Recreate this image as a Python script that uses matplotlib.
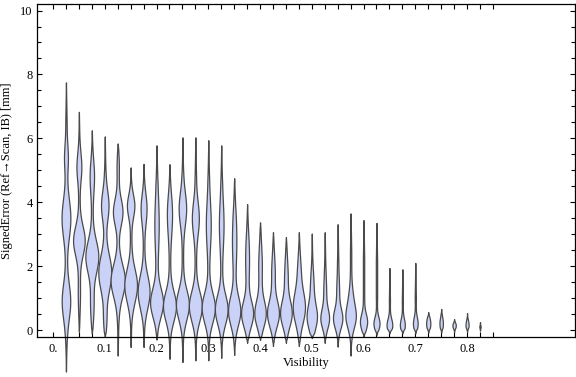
import numpy as np
import matplotlib
matplotlib.use('Agg')
import matplotlib.pyplot as plt
from matplotlib.ticker import MultipleLocator

# violin i sits at category position i (1..33), 4 positions per 0.1 visibility
tick_labels = ['0.', '0.1', '0.2', '0.3', '0.4', '0.5', '0.6', '0.7', '0.8']

# lowest / highest signed error of each distribution [mm]
err_min = [-1.30, -0.05, -0.10, -0.20, -0.80, -0.53, -0.53, -0.30, -0.90, -1.00, -0.95,
           -0.95, -0.87, -0.78, -0.40, -0.31, -0.50, -0.40, -0.50, -0.25, -0.40, -0.52,
           -0.80, -0.20, -0.15, -0.10, -0.10, -0.10, -0.08, -0.08, -0.06, -0.06, -0.02]
err_max = [7.75, 6.83, 6.25, 6.06, 5.84, 5.09, 5.20, 5.78, 5.19, 6.03, 6.03,
           5.94, 5.78, 4.75, 3.94, 3.37, 3.06, 2.91, 3.06, 3.02, 3.06, 3.31,
           3.65, 3.44, 3.35, 1.94, 1.90, 2.10, 0.56, 0.66, 0.34, 0.53, 0.25]

# density bulges: (centre [mm], spread [mm], half width)
bulges = [
    [(0.9, 0.55, 0.28), (3.5, 0.6, 0.29), (5.4, 0.4, 0.10)],
    [(2.8, 0.45, 0.40), (5.1, 0.4, 0.14), (1.0, 0.6, 0.04)],
    [(2.3, 0.5, 0.45), (4.8, 0.5, 0.12), (0.7, 0.5, 0.10)],
    [(1.8, 0.55, 0.45), (3.9, 0.45, 0.24), (0.3, 0.4, 0.10)],
    [(1.55, 0.5, 0.50), (3.7, 0.4, 0.32), (5.2, 0.4, 0.06)],
    [(1.4, 0.5, 0.44), (3.9, 0.35, 0.24)],
    [(1.2, 0.5, 0.41), (3.8, 0.45, 0.18)],
    [(0.85, 0.45, 0.45), (3.3, 0.8, 0.12)],
    [(0.75, 0.45, 0.45), (3.6, 0.6, 0.15)],
    [(0.8, 0.45, 0.45), (3.8, 0.5, 0.24)],
    [(0.75, 0.45, 0.45), (3.5, 0.5, 0.22)],
    [(0.7, 0.45, 0.46), (3.3, 0.7, 0.14)],
    [(0.65, 0.45, 0.44), (3.3, 0.7, 0.13)],
    [(0.6, 0.45, 0.42), (2.8, 0.8, 0.12)],
    [(0.5, 0.4, 0.42), (2.2, 0.7, 0.10)],
    [(0.5, 0.4, 0.40), (2.0, 0.7, 0.09)],
    [(0.5, 0.4, 0.41), (1.8, 0.6, 0.09)],
    [(0.5, 0.4, 0.40), (1.7, 0.6, 0.09)],
    [(0.7, 0.5, 0.42), (1.9, 0.5, 0.08)],
    [(0.4, 0.4, 0.37), (1.4, 0.4, 0.08)],
    [(0.35, 0.3, 0.30), (1.2, 0.4, 0.06)],
    [(0.35, 0.3, 0.32), (1.2, 0.4, 0.06)],
    [(0.4, 0.35, 0.33), (1.0, 0.35, 0.10)],
    [(0.25, 0.25, 0.26)],
    [(0.2, 0.2, 0.22)],
    [(0.15, 0.2, 0.21)],
    [(0.15, 0.2, 0.18)],
    [(0.2, 0.2, 0.17)],
    [(0.2, 0.2, 0.15)],
    [(0.2, 0.2, 0.12)],
    [(0.15, 0.15, 0.12)],
    [(0.15, 0.15, 0.11)],
    [(0.08, 0.08, 0.06)],
]

plt.rcParams['font.family'] = ['Liberation Serif', 'DejaVu Serif']

fig = plt.figure(figsize=(5.76, 3.77), dpi=100)
ax = fig.add_axes([0.0642, 0.106, 0.934, 0.883])

fill_col = '#cbd2f7'
edge_col = '#4a4a4a'

for i in range(len(err_min)):
    pos = i + 1
    lo, hi = err_min[i], err_max[i]
    y = np.linspace(lo, hi, 400)
    w = np.zeros_like(y)
    for c, s, a in bulges[i]:
        w += a * np.exp(-0.5 * ((y - c) / s) ** 2)
    d = np.minimum(y - lo, hi - y)
    w += 0.05 * np.clip(d / 1.2, 0, 1)
    w *= np.clip(d / 0.15, 0, 1)
    ax.fill_betweenx(y, pos - w, pos + w, facecolor=fill_col, edgecolor=edge_col,
                     linewidth=0.9, clip_on=False, zorder=2)

ax.set_xlim(-1.24, 40.34)
ax.set_ylim(-0.22, 10.2)

ax.set_xticks(np.arange(0, 35, 4))
ax.set_xticklabels(tick_labels)
ax.set_xticks(np.arange(0, 35, 1), minor=True)
ax.yaxis.set_major_locator(MultipleLocator(2))
ax.yaxis.set_minor_locator(MultipleLocator(0.5))
ax.tick_params(which='both', direction='in', top=True, right=True, width=0.8,
               labelsize=9, colors='black')
ax.tick_params(axis='x', which='both', length=3.6, pad=4)
ax.tick_params(axis='y', which='major', length=3.8, pad=3)
ax.tick_params(axis='y', which='minor', length=2.8)
for sp in ax.spines.values():
    sp.set_linewidth(0.9)

ax.set_xlabel('Visibility', fontsize=9, labelpad=2)
ax.set_ylabel('SignedError (Ref\u2192Scan, IB) [mm]', fontsize=9, labelpad=5)

fig.savefig('out.png', dpi=100)
